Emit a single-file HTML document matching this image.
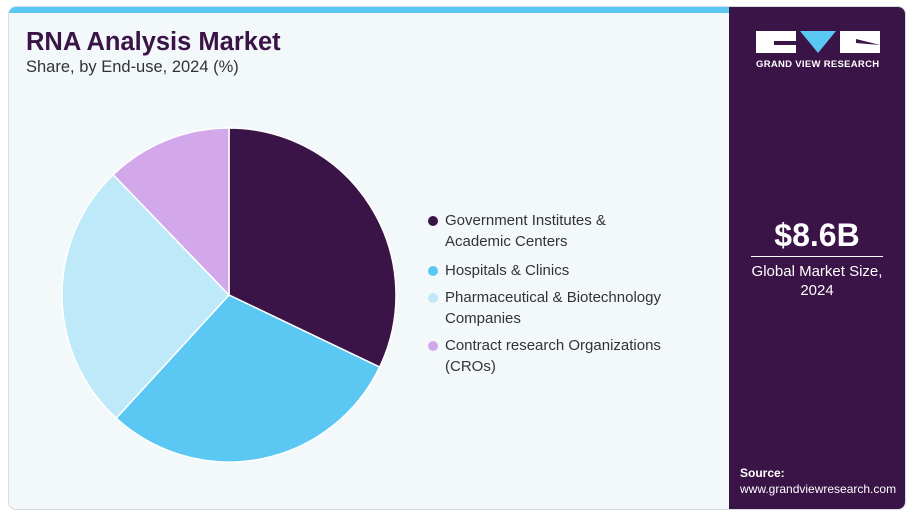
<!DOCTYPE html>
<html><head><meta charset="utf-8"><style>
body{margin:0;width:912px;height:514px;background:#fff;font-family:"Liberation Sans",sans-serif;position:relative;overflow:hidden}
#card{position:absolute;left:8px;top:6px;width:896px;height:502px;border:1px solid #d6dbe0;border-radius:8px;background:#f3f8fb;overflow:hidden}
#topbar{position:absolute;left:0;top:0;width:720px;height:6px;background:#5bc8f3}
#side{position:absolute;left:720px;top:0;width:176px;height:502px;background:#3a1347}
.t{position:absolute;white-space:nowrap}
.leg{position:absolute;left:436px;font-size:15px;color:#333;line-height:21px}
.dot{position:absolute;left:-17px;top:6px;width:10px;height:10px;border-radius:50%}
</style></head><body>
<div id="card">
<div id="topbar"></div>
<div class="t" style="left:17px;top:21px;font-size:25.5px;font-weight:bold;color:#3a1347">RNA Analysis Market</div>
<div class="t" style="left:17px;top:51px;font-size:16.5px;color:#333">Share, by End-use, 2024 (%)</div>
<svg id="pie" style="position:absolute;left:0;top:0" width="720" height="502"></svg>
<div class="leg" style="top:203px"><span class="dot" style="background:#3a1347"></span>Government Institutes &amp;<br>Academic Centers</div>
<div class="leg" style="top:253px"><span class="dot" style="background:#5bc8f3"></span>Hospitals &amp; Clinics</div>
<div class="leg" style="top:280px"><span class="dot" style="background:#bde9f8"></span>Pharmaceutical &amp; Biotechnology<br>Companies</div>
<div class="leg" style="top:328px"><span class="dot" style="background:#d3a8ea"></span>Contract research Organizations<br>(CROs)</div>
<div id="side">
<svg style="position:absolute;left:27px;top:24px" width="124" height="24">
<rect x="0" y="0" width="40" height="22" fill="#fff"/><rect x="18" y="10" width="22" height="4" fill="#3a1347"/>
<polygon points="44,0 80,0 62,22" fill="#5bc8f3"/>
<rect x="84" y="0" width="40" height="22" fill="#fff"/><polygon points="100,8 124,14 100,12" fill="#3a1347"/>
</svg>
<div class="t" style="left:27px;top:52px;font-size:9.5px;font-weight:bold;color:#fff;letter-spacing:.3px">GRAND VIEW RESEARCH</div>
<div class="t" style="left:0;width:176px;text-align:center;top:210px;font-size:32px;font-weight:bold;color:#fff">$8.6B</div>
<div style="position:absolute;left:22px;width:132px;top:249px;height:1px;background:#fff"></div>
<div class="t" style="left:0;width:176px;text-align:center;top:255px;font-size:15px;color:#fff;line-height:19px;white-space:normal">Global Market Size,<br>2024</div>
<div class="t" style="left:11px;top:459px;font-size:12px;font-weight:bold;color:#fff">Source:</div>
<div class="t" style="left:11px;top:475px;font-size:12px;color:#fff">www.grandviewresearch.com</div>
</div>
</div>
<script>
const categories=["Government Institutes & Academic Centers","Hospitals & Clinics","Pharmaceutical & Biotechnology Companies","Contract research Organizations (CROs)"];
const shares=[32.1,29.7,26.0,12.2];
const colors=["#3a1347","#5bc8f3","#bde9f8","#d3a8ea"];
const svg=document.getElementById('pie');
const cx=220,cy=288,r=167;
const total=shares.reduce((a,b)=>a+b,0);
let a0=0;
shares.forEach((v,i)=>{
 const a1=a0+v/total*2*Math.PI;
 const p=a=>[cx+r*Math.sin(a),cy-r*Math.cos(a)];
 const [x0,y0]=p(a0),[x1,y1]=p(a1);
 const path=document.createElementNS('http://www.w3.org/2000/svg','path');
 path.setAttribute('d',`M${cx},${cy}L${x0},${y0}A${r},${r} 0 ${a1-a0>Math.PI?1:0} 1 ${x1},${y1}Z`);
 path.setAttribute('fill',colors[i]);
 path.setAttribute('stroke','#fff');path.setAttribute('stroke-width','1.5');
 
 
 svg.appendChild(path);
 a0=a1;
});
</script>
</body></html>
